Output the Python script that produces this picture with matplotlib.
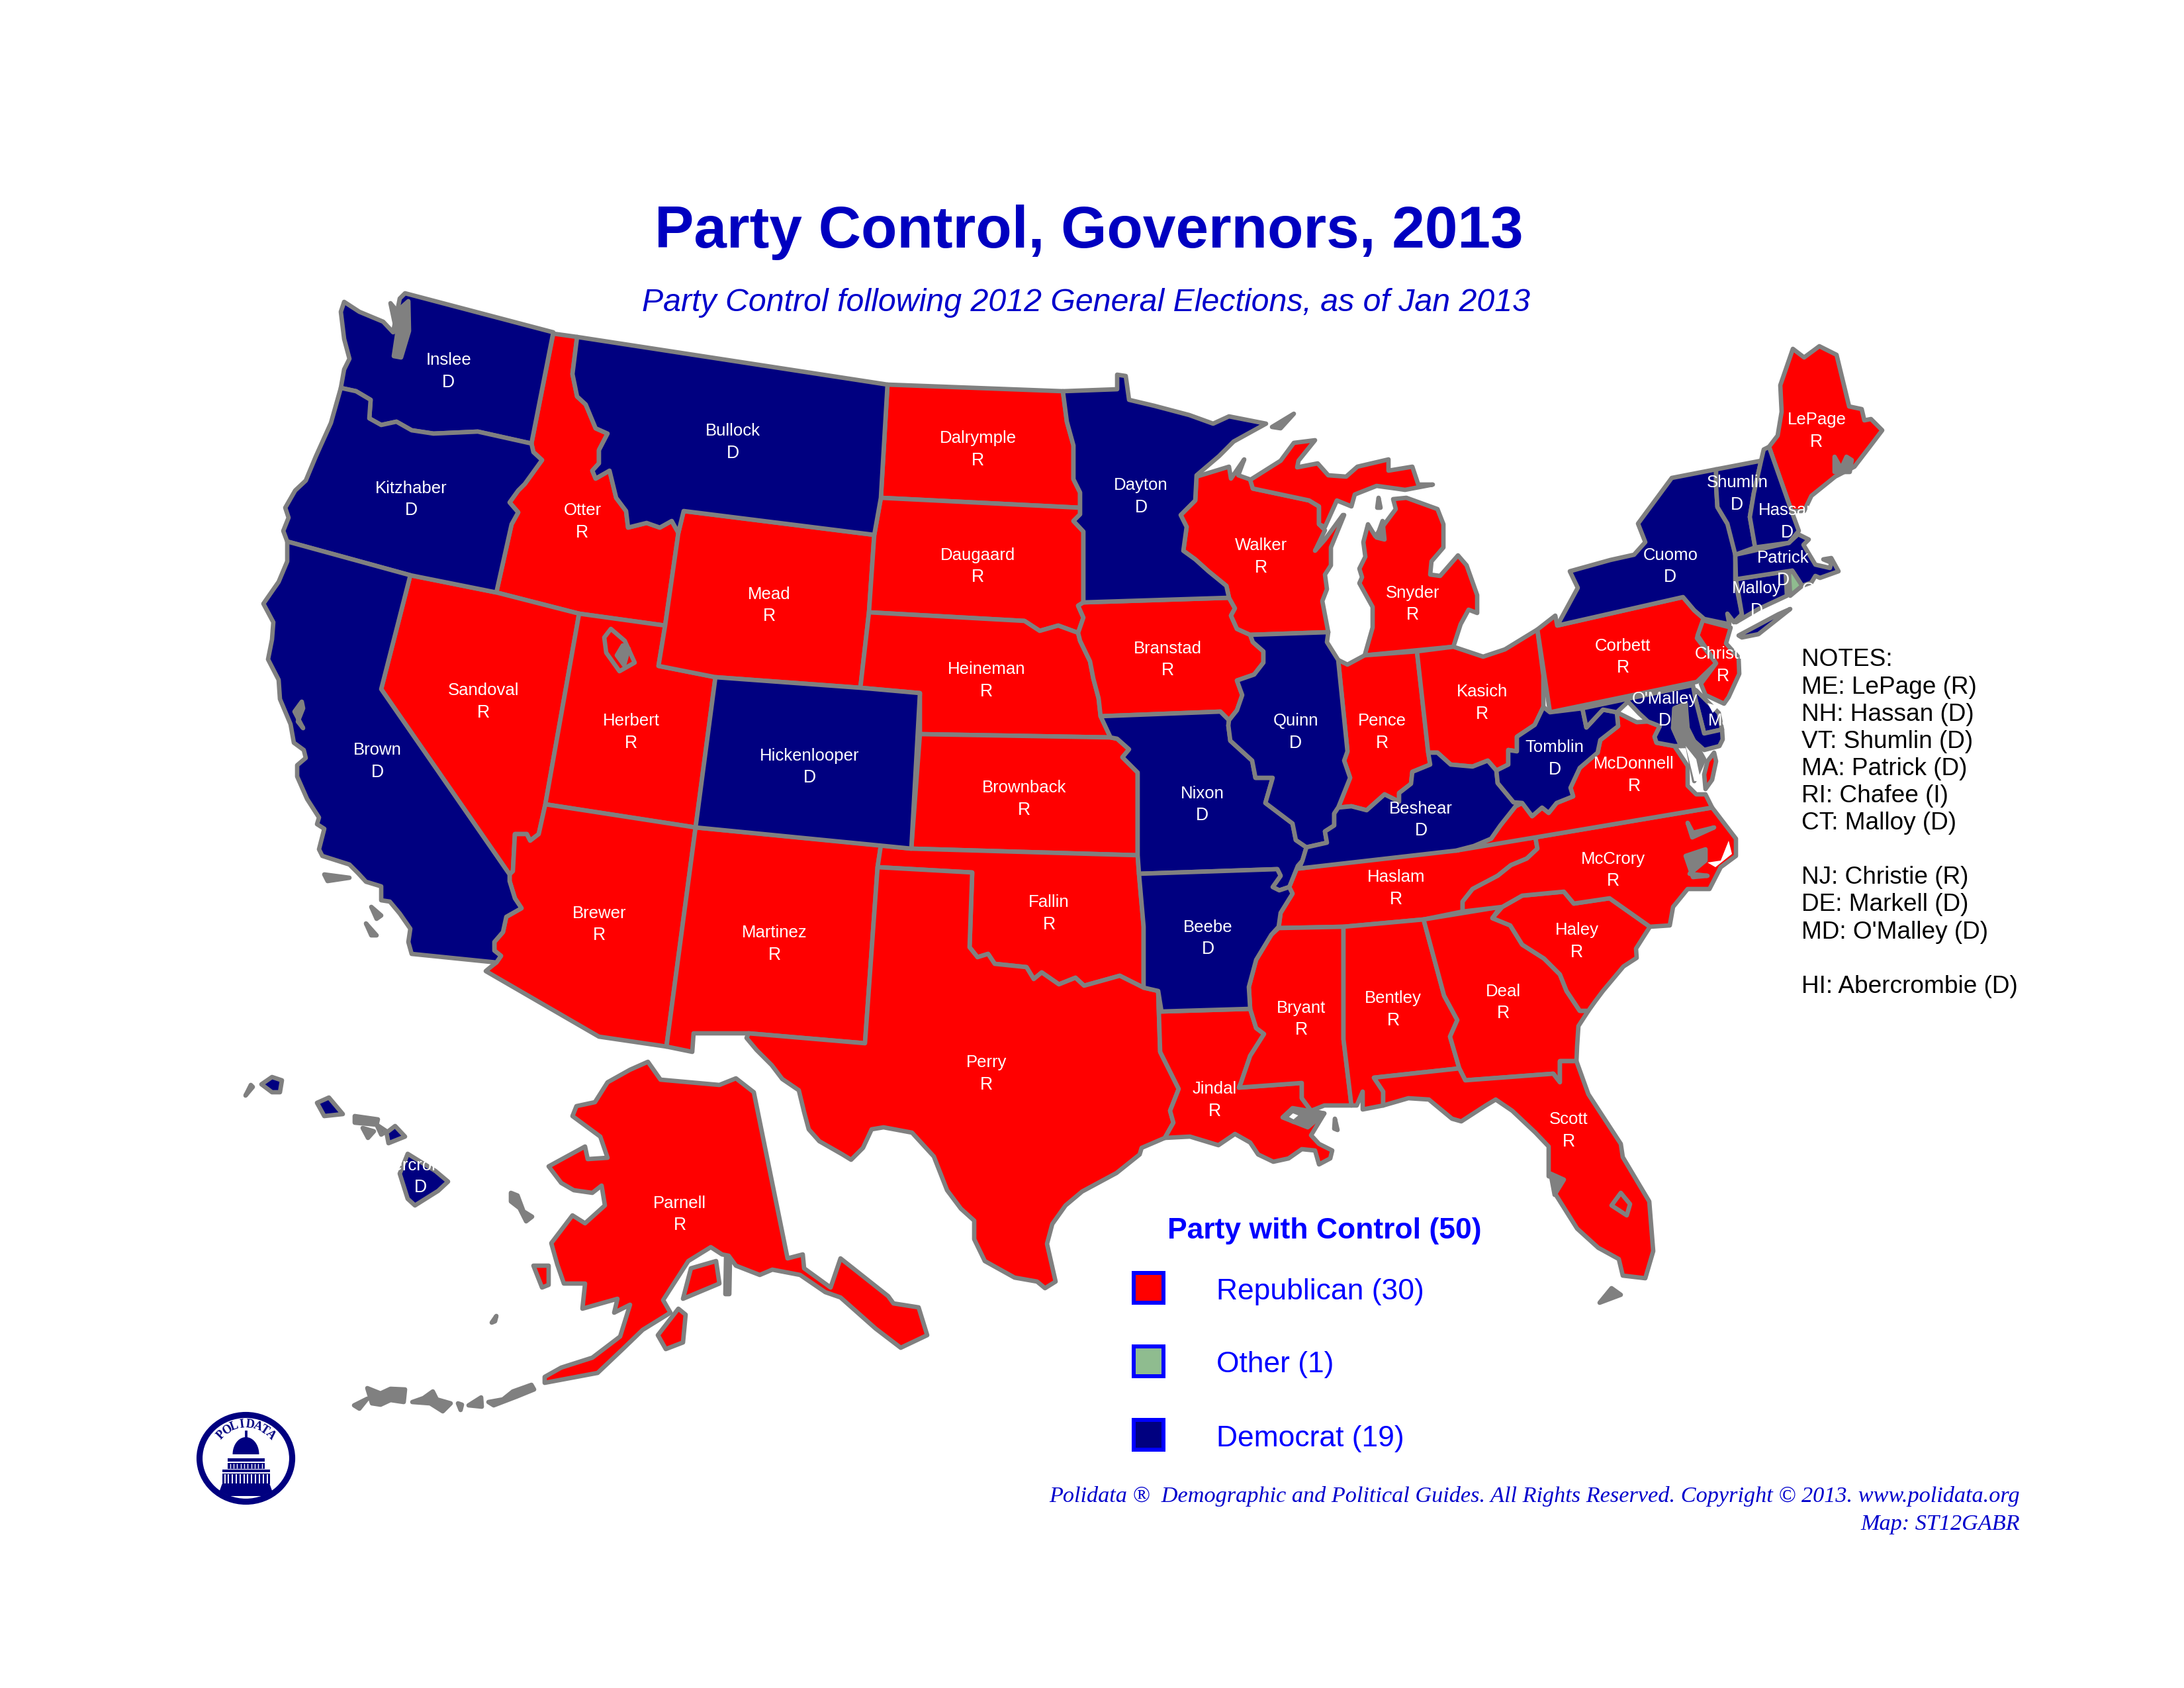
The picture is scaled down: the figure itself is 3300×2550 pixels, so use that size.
#!/usr/bin/env python3
import matplotlib
matplotlib.use("Agg")
import matplotlib.pyplot as plt
import numpy as np
from matplotlib.patches import Ellipse, Polygon, Rectangle

# state outlines, in picture pixels (3300 x 2550)
ID_MT = [(872,509),(865,565),(872,599),(885,611),(900,647),(918,655),(905,680),(905,700),(895,711),(900,723),(921,711),(931,752),(946,772),(949,797),(977,790),(997,797),(1015,787),(1025,805)]
WA = [(612,443),(836,502),(803,670),(722,652),(655,655),(622,650),(599,637),(576,642),(558,632),(560,604),(538,591),(515,586),(520,558),(528,542),(520,512),(515,471),(520,456),(543,471),(579,486),(594,502),(604,451)]
OR = [(515,586),(538,591),(560,604),(558,632),(576,642),(599,637),(622,650),(655,655),(722,652),(803,670),(806,683),(819,695),(793,731),(783,741),(770,759),(783,774),(773,792),(750,895),(620,869),(434,818),(428,802),(436,782),(431,767),(446,741),(462,726),(477,690),(500,639)]
CA = [(434,818),(620,869),(576,1041),(770,1321),(770,1331),(778,1357),(788,1372),(765,1385),(760,1408),(747,1423),(747,1436),(757,1444),(750,1454),(622,1441),(617,1423),(620,1403),(604,1380),(589,1362),(576,1360),(576,1339),(553,1332),(541,1319),(528,1306),(487,1293),(482,1283),(490,1252),(479,1245),(482,1235),(464,1207),(449,1173),(449,1156),(462,1145),(459,1133),(444,1122),(439,1094),(423,1056),(421,1027),(405,996),(411,966),(413,940),(398,912),(421,879),(434,848)]
NV = [(620,869),(750,895),(875,927),(824,1215),(814,1260),(801,1270),(796,1260),(778,1260),(775,1316),(770,1321),(576,1041)]
ID = [(836,504)] + ID_MT + [(1005,945),(875,927),(750,895),(773,792),(783,774),(770,759),(783,741),(793,731),(819,695),(806,683),(803,670)]
MT = [(872,509),(1341,581),(1331,752),(1321,808),(1033,772)] + ID_MT[::-1]
WY = [(1033,772),(1321,808),(1313,925),(1300,1039),(1081,1023),(995,1006),(1005,945),(1025,805)]
UT = [(875,927),(1005,945),(995,1006),(1081,1023),(1051,1250),(824,1215)]
CO = [(1081,1023),(1300,1039),(1390,1047),(1377,1282),(1051,1250)]
AZ = [(824,1215),(1051,1250),(1007,1581),(905,1566),(734,1467),(740,1462),(750,1454),(757,1444),(747,1436),(747,1423),(760,1408),(765,1385),(788,1372),(778,1357),(770,1331),(770,1321),(775,1316),(778,1260),(796,1260),(801,1270),(814,1260)]
NM = [(1051,1250),(1331,1277),(1326,1310),(1307,1576),(1131,1561),(1048,1561),(1046,1589),(1007,1581)]
ND = [(1341,581),(1606,591),(1612,637),(1622,673),(1622,724),(1632,744),(1632,767),(1331,752)]
SD = [(1331,752),(1632,767),(1632,777),(1622,787),(1637,803),(1637,910),(1629,915),(1637,933),(1629,956),(1599,945),(1571,953),(1548,938),(1313,925),(1321,808)]
NE = [(1313,925),(1548,938),(1571,953),(1599,945),(1629,956),(1632,968),(1647,999),(1652,1025),(1660,1055),(1663,1082),(1678,1114),(1390,1109),(1390,1047),(1300,1039)]
KS = [(1390,1109),(1678,1114),(1688,1116),(1706,1132),(1696,1144),(1719,1167),(1719,1292),(1377,1282)]
OK = [(1331,1277),(1377,1282),(1719,1292),(1721,1320),(1728,1400),(1728,1492),(1692,1474),(1638,1489),(1625,1477),(1600,1487),(1574,1469),(1562,1479),(1551,1461),(1503,1456),(1493,1441),(1477,1446),(1465,1431),(1469,1318),(1326,1310)]
TX = [(1326,1310),(1469,1318),(1465,1431),(1477,1446),(1493,1441),(1503,1456),(1551,1461),(1562,1479),(1574,1469),(1600,1487),(1625,1477),(1638,1489),(1692,1474),(1728,1492),(1750,1497),(1753,1589),(1763,1609),(1781,1645),(1768,1678),(1773,1696),(1760,1719),(1725,1734),(1722,1744),(1687,1772),(1635,1800),(1610,1821),(1590,1849),(1582,1879),(1595,1936),(1579,1946),(1567,1936),(1533,1930),(1488,1905),(1472,1872),(1472,1844),(1452,1826),(1431,1798),(1411,1747),(1378,1711),(1335,1703),(1317,1706),(1304,1734),(1286,1752),(1273,1744),(1238,1724),(1222,1706),(1215,1680),(1207,1647),(1182,1630),(1166,1609),(1143,1586),(1128,1568),(1131,1561),(1307,1576)]
MN = [(1606,591),(1688,588),(1688,566),(1701,568),(1706,604),(1744,613),(1797,627),(1833,640),(1857,629),(1913,640),(1864,667),(1842,689),(1808,718),(1806,756),(1784,778),(1793,796),(1788,832),(1806,845),(1826,863),(1853,885),(1857,903),(1637,910),(1637,803),(1622,787),(1632,777),(1632,744),(1622,724),(1622,673),(1612,637)]
IA = [(1637,910),(1857,903),(1866,919),(1860,930),(1869,950),(1889,959),(1893,970),(1909,984),(1909,1001),(1895,1019),(1869,1028),(1877,1050),(1869,1073),(1857,1088),(1844,1075),(1663,1082),(1660,1055),(1652,1025),(1647,999),(1632,968),(1629,956),(1637,933),(1629,915)]
MO = [(1663,1082),(1844,1075),(1857,1088),(1856,1096),(1859,1119),(1892,1149),(1897,1175),(1923,1175),(1912,1213),(1953,1244),(1958,1269),(1974,1280),(1968,1300),(1961,1308),(1948,1340),(1933,1345),(1923,1340),(1935,1323),(1930,1313),(1721,1320),(1719,1292),(1719,1167),(1696,1144),(1706,1132),(1688,1116),(1678,1114)]
AR = [(1721,1320),(1930,1313),(1935,1323),(1923,1340),(1933,1345),(1948,1340),(1953,1350),(1935,1379),(1932,1400),(1921,1412),(1898,1450),(1887,1491),(1889,1524),(1755,1528),(1750,1497),(1728,1492),(1728,1400)]
LA = [(1755,1528),(1889,1524),(1898,1553),(1910,1562),(1889,1595),(1875,1636),(1872,1643),(1967,1636),(1967,1659),(1981,1678),(2001,1682),(1981,1715),(1993,1728),(2013,1738),(2010,1750),(1993,1759),(1987,1738),(1967,1736),(1947,1750),(1924,1755),(1901,1744),(1889,1726),(1866,1713),(1841,1730),(1798,1717),(1760,1719),(1773,1696),(1768,1678),(1781,1645),(1763,1609),(1753,1589),(1750,1497)]
MS = [(1932,1402),(2030,1400),(2030,1570),(2042,1670),(2001,1670),(1981,1678),(1967,1659),(1967,1636),(1872,1643),(1875,1636),(1889,1595),(1910,1562),(1898,1553),(1889,1524),(1887,1491),(1898,1450),(1921,1412)]
AL = [(2030,1400),(2151,1389),(2182,1504),(2202,1541),(2191,1566),(2205,1614),(2076,1628),(2090,1649),(2090,1670),(2059,1676),(2059,1649),(2050,1670),(2042,1670),(2030,1570)]
GA = [(2151,1389),(2267,1370),(2255,1387),(2282,1398),(2300,1427),(2333,1448),(2357,1472),(2367,1497),(2387,1527),(2400,1527),(2385,1550),(2383,1580),(2382,1603),(2357,1603),(2357,1635),(2347,1622),(2214,1632),(2205,1614),(2191,1566),(2202,1541),(2182,1504)]
FL = [(2076,1628),(2205,1614),(2214,1632),(2347,1622),(2357,1635),(2357,1603),(2382,1603),(2400,1653),(2449,1728),(2452,1748),(2492,1815),(2498,1890),(2486,1931),(2452,1927),(2446,1902),(2415,1885),(2383,1856),(2349,1802),(2360,1782),(2340,1777),(2340,1732),(2320,1711),(2285,1678),(2260,1661),(2245,1670),(2208,1694),(2194,1690),(2159,1661),(2128,1659),(2090,1670),(2090,1649)]
SC = [(2255,1387),(2270,1370),(2300,1353),(2363,1347),(2378,1365),(2432,1357),(2493,1400),(2472,1433),(2473,1447),(2453,1460),(2422,1497),(2410,1513),(2400,1527),(2387,1527),(2367,1497),(2357,1472),(2333,1448),(2300,1427),(2282,1398)]
NC = [(2320,1265),(2587,1220),(2623,1267),(2623,1293),(2600,1310),(2583,1343),(2550,1343),(2528,1370),(2523,1398),(2493,1400),(2432,1357),(2378,1365),(2363,1347),(2300,1353),(2270,1370),(2210,1377),(2210,1362),(2225,1343),(2263,1323),(2283,1307),(2307,1297),(2323,1282)]
TN = [(1963,1312),(2320,1265),(2323,1282),(2307,1297),(2283,1307),(2263,1323),(2225,1343),(2210,1362),(2210,1377),(2151,1389),(2030,1400),(1932,1402),(1935,1379),(1953,1350),(1948,1340),(1961,1308)]
KY = [(2158,1137),(2172,1137),(2192,1155),(2225,1158),(2248,1149),(2261,1164),(2263,1183),(2287,1212),(2300,1213),(2290,1218),(2267,1247),(2253,1267),(2227,1278),(2200,1285),(1963,1312),(1968,1300),(1974,1280),(2005,1273),(2002,1256),(2016,1247),(2016,1229),(2022,1220),(2042,1218),(2065,1224),(2092,1200),(2114,1211),(2114,1198),(2132,1184),(2134,1166),(2161,1155)]
IL = [(1889,959),(2007,955),(2005,970),(2022,997),(2036,1135),(2031,1149),(2040,1175),(2022,1220),(2016,1229),(2016,1247),(2002,1256),(2005,1273),(1974,1280),(1958,1269),(1953,1244),(1912,1213),(1923,1175),(1897,1175),(1892,1149),(1859,1119),(1856,1096),(1857,1088),(1869,1073),(1877,1050),(1869,1028),(1895,1019),(1909,1001),(1909,984),(1893,970)]
IN = [(2022,997),(2036,1004),(2062,990),(2141,984),(2158,1135),(2161,1155),(2134,1166),(2132,1184),(2114,1198),(2114,1211),(2092,1200),(2065,1224),(2042,1218),(2022,1220),(2040,1175),(2031,1149),(2036,1135)]
OH = [(2141,984),(2196,977),(2241,992),(2274,981),(2323,951),(2332,1021),(2332,1068),(2319,1095),(2292,1113),(2292,1135),(2279,1133),(2279,1155),(2261,1164),(2248,1149),(2225,1158),(2192,1155),(2172,1137),(2158,1137)]
WI = [(1808,720),(1857,705),(1860,723),(1880,694),(1871,718),(1891,725),(1893,738),(1978,756),(1993,765),(1993,792),(2002,801),(1987,832),(2002,815),(2029,778),(2031,778),(2011,827),(2011,854),(2002,868),(2005,890),(1998,908),(2007,955),(1889,959),(1869,950),(1860,930),(1866,919),(1857,903),(1853,885),(1826,863),(1806,845),(1788,832),(1793,796),(1784,778),(1806,756)]
MI_U = [(1889,725),(1935,696),(1955,669),(1987,665),(1962,696),(1960,706),(1991,700),(2007,718),(2034,720),(2051,705),(2098,694),(2098,711),(2134,705),(2143,732),(2165,732),(2123,740),(2109,738),(2080,734),(2047,747),(2042,765),(2020,756),(2002,796),(1993,792),(1993,765),(1978,756),(1893,738)]
MI_L = [(2062,990),(2196,977),(2207,943),(2219,921),(2232,926),(2232,899),(2216,854),(2203,839),(2176,870),(2161,868),(2163,848),(2181,827),(2181,792),(2172,769),(2125,752),(2105,754),(2109,769),(2085,801),(2078,810),(2067,792),(2060,819),(2063,841),(2054,859),(2058,872),(2054,881),(2074,917),(2074,948)]
WV = [(2342,1076),(2391,1070),(2397,1099),(2422,1072),(2443,1076),(2445,1097),(2418,1118),(2414,1137),(2387,1160),(2373,1190),(2377,1203),(2352,1213),(2340,1228),(2330,1220),(2315,1233),(2300,1213),(2287,1212),(2263,1183),(2261,1164),(2279,1155),(2279,1133),(2292,1135),(2292,1113),(2319,1095),(2332,1068)]
VA = [(2443,1076),(2473,1091),(2490,1090),(2508,1097),(2500,1113),(2503,1122),(2530,1127),(2550,1157),(2550,1187),(2563,1200),(2577,1200),(2587,1220),(2320,1265),(2200,1285),(2227,1278),(2253,1267),(2267,1247),(2290,1218),(2300,1213),(2315,1233),(2330,1220),(2340,1228),(2352,1213),(2377,1203),(2373,1190),(2387,1160),(2414,1137),(2418,1118),(2445,1097)]
VA_E = [(2590,1137),(2593,1150),(2587,1178),(2577,1192),(2575,1170),(2580,1150)]
PA = [(2323,951),(2350,930),(2353,945),(2543,902),(2560,922),(2575,935),(2564,964),(2593,1002),(2564,1030),(2342,1076)]
NY = [(2526,722),(2593,709),(2593,734),(2595,766),(2610,791),(2613,793),(2622,838),(2622,877),(2632,928),(2620,940),(2610,927),(2613,943),(2575,935),(2560,922),(2543,902),(2353,945),(2384,888),(2372,863),(2433,846),(2469,838),(2486,819),(2475,791)]
NY_LI = [(2627,960),(2687,928),(2705,920),(2657,958),(2632,963)]
NJ = [(2573,937),(2615,948),(2608,972),(2627,993),(2628,1018),(2612,1053),(2605,1063),(2577,1050),(2570,1033),(2593,1002),(2565,960)]
DE = [(2558,1040),(2562,1057),(2575,1108),(2602,1102),(2597,1077),(2583,1063),(2563,1043)]
MD = [(2391,1070),(2558,1035),(2562,1057),(2575,1108),(2602,1102),(2603,1117),(2598,1127),(2575,1133),(2557,1117),(2548,1100),(2547,1063),(2530,1070),(2528,1100),(2540,1127),(2530,1127),(2503,1122),(2500,1113),(2508,1097),(2490,1090),(2477,1078),(2460,1060),(2443,1076),(2422,1072),(2397,1099)]
CT = [(2623,875),(2698,863),(2700,900),(2657,920),(2623,940),(2632,928)]
RI = [(2703,866),(2708,862),(2723,885),(2705,900)]
MA = [(2622,838),(2703,820),(2717,807),(2733,815),(2725,823),(2743,853),(2765,858),(2767,850),(2755,845),(2767,843),(2778,863),(2750,873),(2743,870),(2737,880),(2723,885),(2708,862),(2623,875)]
VT = [(2593,709),(2661,696),(2650,745),(2644,781),(2652,827),(2622,838),(2610,791),(2595,766),(2593,734)]
NH = [(2661,696),(2665,679),(2673,675),(2707,772),(2718,802),(2703,820),(2652,827),(2644,781),(2650,745)]
ME = [(2709,527),(2726,540),(2749,523),(2775,536),(2794,614),(2813,618),(2817,635),(2827,633),(2844,650),(2825,675),(2802,705),(2773,720),(2737,749),(2726,772),(2707,772),(2673,675),(2686,658),(2692,622),(2690,582)]
AK = [(979,1604),(998,1631),(1087,1639),(1112,1629),(1139,1650),(1190,1901),(1213,1895),(1215,1916),(1255,1945),(1270,1901),(1342,1958),(1350,1969),(1388,1975),(1401,2017),(1361,2036),(1323,2007),(1270,1960),(1247,1952),(1209,1926),(1167,1918),(1148,1926),(1112,1912),(1101,1897),(1091,1895),(1074,1884),(1040,1905),(1002,1964),(1013,1983),(971,2009),(941,2038),(903,2074),(823,2089),(823,2080),(848,2066),(895,2051),(937,2019),(952,1971),(928,1983),(933,1962),(880,1977),(884,1939),(852,1939),(842,1910),(833,1878),(865,1836),(884,1848),(914,1821),(909,1791),(895,1802),(867,1798),(848,1787),(829,1762),(884,1732),(888,1751),(918,1749),(907,1717),(865,1686),(871,1671),(899,1665),(918,1635),(952,1616)]
AK_KODIAK = [(1025,1977),(1036,1986),(1032,2028),(1006,2038),(994,2017)]
AK_KENAI = [(1044,1916),(1082,1905),(1087,1939),(1032,1962)]
AK_NUNIVAK = [(806,1912),(829,1912),(829,1941),(819,1945)]
HI_BIG = [(616,1743),(658,1769),(677,1785),(662,1799),(627,1821),(616,1811),(604,1773)]
HI_MAUI = [(597,1701),(612,1717),(587,1727),(584,1711)]
HI_MAUI_W = [(569,1699),(584,1709),(576,1714)]
HI_OAHU = [(497,1658),(518,1683),(490,1686),(479,1666)]
HI_KAUAI = [(411,1627),(426,1632),(423,1650),(411,1650),(395,1638)]

# all-gray bits: islands and bays too small to show a fill
GRAY_SPECKS = [
    [(555,2097),(575,2105),(590,2098),(612,2099),(610,2118),(590,2115),(575,2122),(562,2120)],
    [(623,2118),(640,2112),(654,2102),(660,2114),(681,2120),(669,2132),(650,2120)],
    [(738,2118),(760,2114),(775,2102),(803,2092),(807,2099),(780,2110),(746,2123)],
    [(535,2123),(555,2113),(543,2128)],
    [(692,2120),(698,2122),(696,2130)],
    [(708,2123),(727,2111),(728,2125)],
    [(750,1988),(743,1998),(748,1996)],
    [(772,1802),(782,1806),(791,1830),(804,1838),(795,1845),(785,1825),(772,1815)],
    [(1097,1900),(1103,1902),(1102,1955),(1096,1955)],
    [(379,1639),(382,1642),(371,1655)],
    [(536,1686),(571,1691),(569,1699),(536,1696)],
    [(548,1704),(565,1709),(556,1719)],
    [(2435,1946),(2449,1956),(2417,1968)],
    [(2343,1773),(2363,1782),(2349,1805)],
    [(2017,1690),(2021,1707),(2016,1705)],
    [(1922,645),(1955,625),(1935,647)],
    [(590,458),(600,470),(617,455),(618,500),(606,540),(595,538),(600,505)],
    [(445,1075),(456,1060),(458,1070),(450,1090),(458,1100)],
    [(490,1321),(528,1326),(495,1331)],
    [(561,1370),(576,1383),(569,1388)],
    [(553,1395),(569,1413),(561,1413)],
    [(941,975),(950,980),(943,1005),(932,990)],
    [(2089,787),(2092,815),(2080,812)],
    [(2083,752),(2086,767),(2081,767)],
    [(2772,690),(2782,708),(2790,690),(2798,695),(2795,713),(2772,713)],
    [(2550,1243),(2557,1265),(2590,1250),(2558,1258)],
    [(2547,1293),(2577,1283),(2577,1300),(2553,1320),(2580,1323),(2558,1325)],
    [(2530,1070),(2547,1063),(2550,1100),(2560,1120),(2575,1147),(2560,1180),(2550,1127),(2540,1127),(2528,1100)],
    [(1938,1688),(1953,1674),(2001,1682),(1976,1703)],
]
RED_RINGS = [
    [(923,950),(913,963),(916,986),(936,1014),(959,1001),(944,968)],
    [(2449,1802),(2463,1819),(2458,1836),(2435,1821)],
]
WHITE_GAPS = [
    [(2547,1127),(2563,1147),(2570,1180),(2560,1180)],
    [(2580,1062),(2597,1067),(2588,1077)],
    [(2580,1303),(2600,1300),(2612,1270),(2617,1290),(2592,1310)],
]
WHITE_RINGS = [[(1953,1678),(1942,1688),(1955,1695),(1968,1684)]]

REPUBLICAN = [ID, NV, UT, WY, AZ, NM, ND, SD, NE, KS, OK, TX, IA, LA, WI, MI_U, MI_L, IN, OH, TN, MS, AL, GA, FL,
              SC, NC, VA, VA_E, PA, NJ, ME, AK, AK_KODIAK, AK_KENAI, AK_NUNIVAK]
DEMOCRAT = [WA, OR, CA, MT, CO, MN, MO, AR, IL, KY, WV, NY, NY_LI, DE, MD, CT, MA, VT, NH,
            HI_BIG, HI_MAUI, HI_MAUI_W, HI_OAHU, HI_KAUAI]
OTHER = [RI]

# governor labels: name, party letter, centre of the name line (x, y in reference view units)
GOV_NAMES = ["Inslee","Kitzhaber","Brown","Otter","Sandoval","Herbert","Bullock","Mead","Hickenlooper","Brewer",
             "Martinez","Dalrymple","Daugaard","Heineman","Brownback","Fallin","Perry","Dayton","Branstad","Nixon",
             "Beebe","Jindal","Walker","Quinn","Snyder","Pence","Kasich","Beshear","Haslam","Bryant","Bentley","Deal",
             "Scott","Haley","McCrory","McDonnell","Tomblin","Corbett","Cuomo","Christie","O'Malley","Markell","Malloy",
             "Patrick","Chafee","Shumlin","Hassan","LePage","Parnell","Abercrombie"]
GOV_PARTY = list("DDDRRRDRDRRRRRRRRDRDDRRDRRRDRRRRRRRRDRDRDDDDIDDRRD")
GOV_X = [322,295,271,418,347,453,526,552,581,430,556,702,702,708,735,753,708,819,838,863,867,872,905,930,1014,992,1064,1020,1002,934,1000,1079,
         1126,1132,1158,1173,1116,1165,1199,1237,1195,1246,1261,1280,1313,1247,1283,1304,488,302]
GOV_Y = [257,349,537,365,494,516,308,425,541,654,668,313,397,479,564,646,761,347,464,568,664,780,390,516,424,516,495,579,628,722,715,710,
         802,666,615,547,535,462,397,468,500,516,421,399,422,345,365,300,862,835]
VIEW = 2.105

NOTES = ["NOTES:", "ME: LePage (R)", "NH: Hassan (D)", "VT: Shumlin (D)", "MA: Patrick (D)", "RI: Chafee (I)", "CT: Malloy (D)",
         "", "NJ: Christie (R)", "DE: Markell (D)", "MD: O'Malley (D)", "", "HI: Abercrombie (D)"]
LEGEND_LABELS = ["Republican (30)", "Other (1)", "Democrat (19)"]

RED = "#ff0000"
NAVY = "#000080"
GREEN = "#8fbc8f"
GRAY = "#808080"
BLUE = "#0000ff"
DARK_BLUE = "#0000c0"
LW = 1.6

plt.rcParams["font.family"] = ["Liberation Sans", "DejaVu Sans"]

fig = plt.figure(figsize=(11, 8.5), dpi=300)
ax = fig.add_axes([0, 0, 1, 1])
ax.set_xlim(0, 3300)
ax.set_ylim(2550, 0)
ax.axis("off")


def draw_shapes(shapes, color, zorder=2):
    for shape in shapes:
        ax.add_patch(Polygon(shape, closed=True, facecolor=color, edgecolor=GRAY, linewidth=LW, joinstyle="round", zorder=zorder))


draw_shapes(REPUBLICAN, RED)
draw_shapes(DEMOCRAT, NAVY)
draw_shapes(OTHER, GREEN)
draw_shapes(RED_RINGS, RED, zorder=3)
draw_shapes(GRAY_SPECKS, GRAY, zorder=3)
draw_shapes(WHITE_RINGS, "white", zorder=3.5)
for gap in WHITE_GAPS:
    ax.add_patch(Polygon(gap, closed=True, facecolor="white", edgecolor="none", zorder=3.5))

# labels are white, so whatever runs off the map just disappears
# va="center" also counts the descender, hence the few pixels added to y below
for name, party, x, y in zip(GOV_NAMES, GOV_PARTY, GOV_X, GOV_Y):
    ax.text(x * VIEW, y * VIEW + 3, name, color="white", fontsize=6.2, ha="center", va="center", zorder=5)
    ax.text(x * VIEW, (y + 16) * VIEW + 3, party, color="white", fontsize=6.4, ha="center", va="center", zorder=5)

ax.text(1645, 351, "Party Control, Governors, 2013", color=DARK_BLUE, fontsize=21.4, fontweight="bold", ha="center", va="center")
ax.text(1641, 458, "Party Control following 2012 General Elections, as of Jan 2013", color="#0000cc", fontsize=11.6,
        fontstyle="italic", ha="center", va="center")

for i, line in enumerate(NOTES):
    ax.text(2722, 997 + i * 41.1, line, color="black", fontsize=8.9, ha="left", va="center")

# legend
ax.text(2001, 1860, "Party with Control (50)", color=BLUE, fontsize=10.7, fontweight="bold", ha="center", va="center")
for i, (label, color) in enumerate(zip(LEGEND_LABELS, [RED, GREEN, NAVY])):
    y = 1923 + i * 111
    ax.add_patch(Rectangle((1713, y), 45, 45, facecolor=color, edgecolor=BLUE, linewidth=1.44, joinstyle="miter"))
    ax.text(1838, y + 28, label, color=BLUE, fontsize=10.65, ha="left", va="center")

ax.text(3052, 2261, "Polidata \u00ae  Demographic and Political Guides. All Rights Reserved. Copyright \u00a9 2013. www.polidata.org",
        color="#0000cc", fontsize=8.22, family="Liberation Serif", fontstyle="italic", ha="right", va="center")
ax.text(3052, 2303, "Map: ST12GABR", color="#0000cc", fontsize=8.22, family="Liberation Serif", fontstyle="italic", ha="right", va="center")

# logo
cx, cy = 371.5, 2203
ax.add_patch(Ellipse((cx, cy), 140, 131, facecolor="white", edgecolor=NAVY, linewidth=2.2))
for letter, ang in zip("POLIDATA", np.linspace(136, 44, 8)):
    a = np.radians(ang)
    ax.text(cx + 52 * np.cos(a), cy - 51 * np.sin(a), letter, color=NAVY, fontsize=4.4, family="Liberation Serif", fontweight="bold",
            rotation=ang - 90, ha="center", va="center")
dome_t = np.linspace(0, np.pi, 30)
ax.add_patch(Polygon(np.column_stack([cx + 20 * np.cos(dome_t), 2197 - 26 * np.sin(dome_t)]), closed=True, facecolor=NAVY, edgecolor="none"))
ax.plot([cx, cx], [2175, 2163], color=NAVY, linewidth=0.9)
ax.add_patch(Rectangle((cx - 28, 2203), 56, 5, facecolor=NAVY))
ax.add_patch(Rectangle((cx - 28, 2210), 56, 9, facecolor=NAVY))
ax.add_patch(Rectangle((cx - 36, 2220), 72, 4, facecolor=NAVY))
ax.add_patch(Rectangle((cx - 36, 2226), 72, 16, facecolor=NAVY))
ax.add_patch(Polygon([(cx - 36, 2242), (cx + 36, 2242), (cx + 40, 2253), (cx + 25, 2260), (cx - 25, 2260), (cx - 40, 2253)], closed=True, facecolor=NAVY))
ax.vlines(np.linspace(cx - 24, cx + 24, 10), 2211, 2218, color="white", linewidth=0.35)
ax.vlines(np.linspace(cx - 32, cx + 32, 12), 2227, 2241, color="white", linewidth=0.45)

fig.savefig("out.png", dpi=300)
